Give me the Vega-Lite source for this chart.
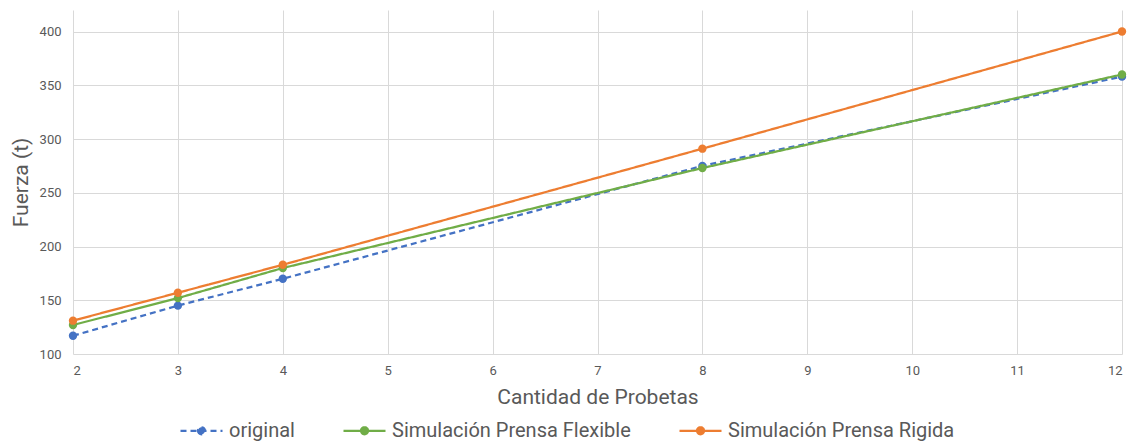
{
  "$schema": "https://vega.github.io/schema/vega-lite/v6.json",
  "width": 1049,
  "height": 344,
  "autosize": {"type": "none"},
  "padding": {"left": 73, "top": 10, "right": 11, "bottom": 90},
  "background": "white",
  "config": {
    "view": {"stroke": null},
    "font": "Roboto",
    "axis": {
      "labelColor": "#595959",
      "titleColor": "#595959",
      "labelFont": "Roboto",
      "titleFont": "Roboto",
      "labelFontSize": 13,
      "titleFontSize": 21,
      "titleFontWeight": "normal",
      "gridColor": "#D9D9D9",
      "gridWidth": 1,
      "domain": false,
      "ticks": false
    },
    "legend": {
      "labelFont": "Roboto",
      "labelFontSize": 20,
      "labelColor": "#595959",
      "labelLimit": 0
    }
  },
  "data": {
    "values": [
      {"probetas": 2, "fuerza": 117, "serie": "original"},
      {"probetas": 3, "fuerza": 145, "serie": "original"},
      {"probetas": 4, "fuerza": 170, "serie": "original"},
      {"probetas": 8, "fuerza": 275, "serie": "original"},
      {"probetas": 12, "fuerza": 358, "serie": "original"},
      {"probetas": 2, "fuerza": 127, "serie": "Simulación Prensa Flexible"},
      {"probetas": 3, "fuerza": 152, "serie": "Simulación Prensa Flexible"},
      {"probetas": 4, "fuerza": 180, "serie": "Simulación Prensa Flexible"},
      {"probetas": 8, "fuerza": 273, "serie": "Simulación Prensa Flexible"},
      {"probetas": 12, "fuerza": 360, "serie": "Simulación Prensa Flexible"},
      {"probetas": 2, "fuerza": 131, "serie": "Simulación Prensa Rigida"},
      {"probetas": 3, "fuerza": 157, "serie": "Simulación Prensa Rigida"},
      {"probetas": 4, "fuerza": 183, "serie": "Simulación Prensa Rigida"},
      {"probetas": 8, "fuerza": 291, "serie": "Simulación Prensa Rigida"},
      {"probetas": 12, "fuerza": 400, "serie": "Simulación Prensa Rigida"}
    ]
  },
  "mark": {
    "type": "line",
    "strokeWidth": 2.25,
    "point": {"filled": true, "size": 70}
  },
  "encoding": {
    "x": {
      "field": "probetas",
      "type": "quantitative",
      "scale": {"domain": [2, 12], "nice": false, "zero": false},
      "axis": {
        "title": "Cantidad de Probetas",
        "values": [2, 3, 4, 5, 6, 7, 8, 9, 10, 11, 12],
        "format": "d",
        "labelPadding": 10,
        "titlePadding": 9
      }
    },
    "y": {
      "field": "fuerza",
      "type": "quantitative",
      "scale": {"domain": [100, 420], "nice": false, "zero": false},
      "axis": {
        "title": "Fuerza (t)",
        "values": [100, 150, 200, 250, 300, 350, 400],
        "labelPadding": 12,
        "titlePadding": 8
      }
    },
    "color": {
      "field": "serie",
      "type": "nominal",
      "scale": {
        "domain": ["original", "Simulación Prensa Flexible", "Simulación Prensa Rigida"],
        "range": ["#4472C4", "#70AD47", "#ED7D31"]
      },
      "legend": {
        "title": null,
        "orient": "none",
        "direction": "horizontal",
        "legendX": 117,
        "legendY": 409,
        "symbolType": "M-2.1,0H2.1M-0.35,0A0.35,0.35 0 1,0 0.35,0A0.35,0.35 0 1,0 -0.35,0",
        "symbolSize": 400,
        "symbolStrokeWidth": 2.25,
        "labelOffset": 16,
        "columnPadding": 44,
        "padding": 0
      }
    },
    "strokeDash": {
      "field": "serie",
      "type": "nominal",
      "scale": {
        "domain": ["original", "Simulación Prensa Flexible", "Simulación Prensa Rigida"],
        "range": [[6, 4], [1, 0], [1, 0]]
      },
      "legend": {
        "title": null,
        "orient": "none",
        "direction": "horizontal",
        "legendX": 117,
        "legendY": 409,
        "symbolType": "M-2.1,0H2.1M-0.35,0A0.35,0.35 0 1,0 0.35,0A0.35,0.35 0 1,0 -0.35,0",
        "symbolSize": 400,
        "symbolStrokeWidth": 2.25,
        "labelOffset": 16,
        "columnPadding": 44,
        "padding": 0
      }
    }
  }
}
